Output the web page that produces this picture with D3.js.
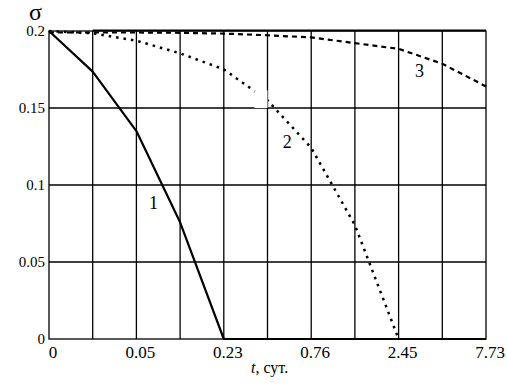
<!DOCTYPE html>
<html><head><meta charset="utf-8">
<script src="https://cdn.jsdelivr.net/npm/d3@7"></script>
<style>html,body{margin:0;padding:0;background:#fff;}svg{display:block;}
text{font-family:"Liberation Serif","Times New Roman",serif;}</style>
</head><body>
<svg id="c" width="507" height="386"></svg>
<script>
// x positions are grid indices 0..10 (non-uniform time axis)
const xTickIndex = [0, 2, 4, 6, 8, 10];
const xTickLabels = ["0", "0.05", "0.23", "0.76", "2.45", "7.73"];
const yTicks = [0, 0.05, 0.1, 0.15, 0.2];
const yTickLabels = ["0", "0.05", "0.1", "0.15", "0.2"];
const curve1 = [[0,0.2],[1,0.1736],[2,0.135],[3,0.0758],[4,0],[5,0],[6,0],[7,0],[8,0],[9,0],[10,0]];
const curve2 = [[0,0.2],[1,0.1985],[2,0.1937],[3,0.1855],[4,0.1751],[5,0.155],[6,0.1242],[7,0.074],[8,0]];
const curve3 = [[0,0.2],[1,0.2],[2,0.2],[3,0.1998],[4,0.1993],[5,0.1982],[6,0.1968],[7,0.1931],[8,0.1894],[9,0.1797],[10,0.165]];
const curveNames = ["1", "2", "3"];
const curveLabelAt = [[2.39, 0.0883], [5.45, 0.1276], [8.48, 0.174]];

const svg = d3.select("#c");
const x = d3.scaleLinear().domain([0, 10]).range([49, 486]);
const y = d3.scaleLinear().domain([0, 0.2]).range([339, 31]);

// grid
const g = svg.append("g");
g.selectAll("line.v").data(d3.range(1, 10)).enter().append("line")
  .attr("x1", d => x(d)).attr("x2", d => x(d)).attr("y1", y(0)).attr("y2", y(0.2))
  .attr("stroke", "#000").attr("stroke-width", 1.3);
g.selectAll("line.h").data([0.05, 0.1, 0.15]).enter().append("line")
  .attr("x1", x(0)).attr("x2", x(10)).attr("y1", d => y(d)).attr("y2", d => y(d))
  .attr("stroke", "#000").attr("stroke-width", 1.3);

// frame
svg.append("rect").attr("x", x(0)).attr("y", y(0.2)).attr("width", x(10) - x(0)).attr("height", y(0) - y(0.2))
  .attr("fill", "none").attr("stroke", "#000").attr("stroke-width", 1.3);
svg.append("line").attr("x1", x(1)).attr("x2", x(10)).attr("y1", y(0.2) - 0.5).attr("y2", y(0.2) - 0.5)
  .attr("stroke", "#000").attr("stroke-width", 2);

const line = d3.line().x(d => x(d[0])).y(d => y(d[1]));
svg.append("path").datum(curve3).attr("d", line).attr("fill", "none").attr("stroke", "#000")
  .attr("stroke-width", 2.2).attr("stroke-dasharray", "5,4").attr("transform", "translate(0,1.5)");
svg.append("path").datum(curve2).attr("d", line).attr("fill", "none").attr("stroke", "#000")
  .attr("stroke-width", 2.5).attr("stroke-dasharray", "2.5,5");
svg.append("path").datum(curve1).attr("d", line).attr("fill", "none").attr("stroke", "#000")
  .attr("stroke-width", 2.2).attr("stroke-linejoin", "round");

// white label-box artefact over curve 2 and the grid
svg.append("rect").attr("x", x(4.7)).attr("y", y(0.1615))
  .attr("width", x(5) - x(4.7)).attr("height", y(0.15) - y(0.1615)).attr("fill", "#fff");

// curve labels
svg.selectAll("text.cl").data(curveNames).enter().append("text")
  .attr("x", (d, i) => x(curveLabelAt[i][0])).attr("y", (d, i) => y(curveLabelAt[i][1]))
  .attr("text-anchor", "middle").attr("dominant-baseline", "central")
  .attr("font-size", 18).text(d => d);

// y tick labels
svg.selectAll("text.yt").data(yTicks).enter().append("text")
  .attr("x", 45).attr("y", d => y(d)).attr("text-anchor", "end").attr("dominant-baseline", "central")
  .attr("font-size", 15)
  .text((d, i) => yTickLabels[i]);

// x tick labels
svg.selectAll("text.xt").data(xTickIndex).enter().append("text")
  .attr("x", d => x(d) + 4).attr("y", 358).attr("text-anchor", "middle")
  .attr("font-size", 17).text((d, i) => xTickLabels[i]);

// axis titles
const tt = svg.append("text").attr("x", 251).attr("y", 373).attr("font-size", 16);
tt.append("tspan").attr("font-style", "italic").text("t");
tt.append("tspan").text(", сут.");
svg.append("text").attr("x", 35.5).attr("y", 20).attr("text-anchor", "middle")
  .attr("font-size", 24).text("σ");
</script>
</body></html>
